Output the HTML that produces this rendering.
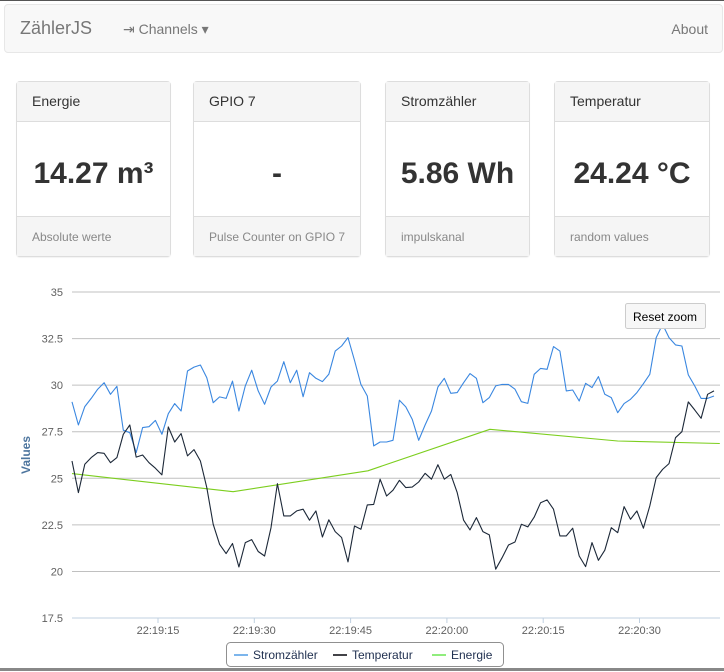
<!DOCTYPE html>
<html><head><meta charset="utf-8">
<style>
*{box-sizing:border-box}
body{margin:0;width:724px;height:671px;overflow:hidden;background:#fff;font-family:"Liberation Sans",Arial,sans-serif;color:#333;position:relative;border-top:1px solid #555}
.nav{position:absolute;left:4px;top:3px;width:719px;height:49px;background:#f8f8f8;border:1px solid #e7e7e7;border-radius:4px}
.brand{position:absolute;left:15px;top:13px;font-size:18px;color:#777}
.chan{position:absolute;left:118px;top:16px;font-size:14px;color:#777}
.about{position:absolute;right:14px;top:16px;font-size:14px;color:#777}
.card{position:absolute;top:80px;height:176px;border:1px solid #ddd;border-radius:4px;background:#fff;box-shadow:0 1px 1px rgba(0,0,0,.05)}
.card .hd{height:40px;background:#f5f5f5;border-bottom:1px solid #ddd;padding:11px 15px;font-size:14px;color:#333}
.card .bd{height:94px;text-align:center;font-size:30px;font-weight:bold;line-height:104px;color:#333;white-space:nowrap}
.card .ft{height:40px;background:#f5f5f5;border-top:1px solid #ddd;padding:13px 15px;font-size:12px;color:#888;white-space:nowrap}
svg text{font-family:"Liberation Sans",Arial,sans-serif}
</style></head><body>
<div class="nav">
 <span class="brand">ZählerJS</span>
 <span class="chan">⇥ Channels ▾</span>
 <span class="about">About</span>
</div>
<div class="card" style="left:16px;width:155px"><div class="hd">Energie</div><div class="bd">14.27 m³</div><div class="ft">Absolute werte</div></div>
<div class="card" style="left:193px;width:168px"><div class="hd">GPIO 7</div><div class="bd">-</div><div class="ft">Pulse Counter on GPIO 7</div></div>
<div class="card" style="left:385px;width:145px"><div class="hd">Stromzähler</div><div class="bd">5.86 Wh</div><div class="ft">impulskanal</div></div>
<div class="card" style="left:554px;width:156px"><div class="hd">Temperatur</div><div class="bd">24.24 °C</div><div class="ft">random values</div></div>

<svg id="chart" width="724" height="400" style="position:absolute;left:0;top:271px"></svg>
<div style="position:absolute;left:0;bottom:0;width:724px;height:3px;background:#888"></div>

<script>
const yTicks=[17.5,20,22.5,25,27.5,30,32.5,35];
const xTickSecs=[15,30,45,60,75,90];
const xTickLabels=["22:19:15","22:19:30","22:19:45","22:20:00","22:20:15","22:20:30"];
const startSec=1.6;
const stepSec=1;
const stromValues=[29.10,27.86,28.85,29.29,29.78,30.13,29.51,29.94,27.58,27.45,26.38,27.72,27.77,28.11,27.36,28.47,29.01,28.61,30.76,30.97,31.08,30.40,29.06,29.37,29.29,30.22,28.61,29.96,30.80,29.69,28.97,29.90,30.22,31.26,30.13,30.80,29.38,30.67,30.37,30.19,30.58,31.83,32.10,32.55,31.33,30.04,29.42,
26.74,26.95,26.95,27.04,29.19,28.83,28.17,27.04,27.86,28.61,29.90,30.37,29.56,29.60,30.13,30.62,30.37,29.06,29.33,29.96,30.04,30.04,29.78,29.11,29.02,30.58,30.90,30.85,32.07,31.83,29.69,29.74,29.15,30.10,29.87,30.46,29.51,29.33,28.52,29.01,29.24,29.60,30.08,30.58,32.55,33.26,32.55,32.16,32.10,30.55,29.96,29.29,29.29,29.42];
const tempValues=[25.93,24.23,25.75,26.11,26.38,26.34,25.84,26.11,27.36,27.86,26.14,26.25,25.84,25.54,25.18,27.76,26.95,27.40,26.20,26.54,25.93,24.50,22.53,21.46,20.96,21.50,20.24,21.55,21.71,21.07,20.83,22.35,24.71,22.98,22.98,23.25,23.34,22.75,23.25,21.85,22.77,22.14,21.82,20.51,22.44,22.26,23.57,
23.60,24.95,24.05,24.36,24.89,24.50,24.53,24.80,25.27,24.95,25.73,24.95,25.21,24.23,22.75,22.23,22.89,22.14,21.96,20.12,20.74,21.42,21.58,22.53,22.39,22.92,23.69,23.84,23.34,21.91,21.91,22.32,20.83,20.26,21.55,20.60,21.14,22.35,22.08,23.48,22.80,23.25,22.32,23.52,25.04,25.48,25.79,27.18,27.50,29.10,28.67,28.22,29.51,29.69];
const energieTimes=[1.6,26.7,47.7,66.7,86.6,102.5];
const energieValues=[25.25,24.28,25.40,27.63,27.00,26.87];

const OY=271;
function xPos(s){return 158+(s-15)*6.42;}
function yPos(v){return 291-OY+(35-v)*18.63;}
const NS="http://www.w3.org/2000/svg";
const svg=document.getElementById('chart');
function mk(tag,attrs){const e=document.createElementNS(NS,tag);for(const k in attrs)e.setAttribute(k,attrs[k]);svg.appendChild(e);return e;}
const L=72,R=720;
yTicks.forEach(v=>{
  const g=mk('line',{x1:L,x2:R,y1:yPos(v),y2:yPos(v),stroke:v===17.5?'#c0d0e0':'#c0c0c0','stroke-width':1});
  
  
  const t=mk('text',{x:63,y:yPos(v)+4,'text-anchor':'end','font-size':11,fill:'#606060'});
  t.textContent=v;
  
  
});
xTickSecs.forEach((s,i)=>{
  const tk=mk('line',{x1:xPos(s),x2:xPos(s),y1:yPos(17.5),y2:yPos(17.5)+5,stroke:'#c0d0e0'});
  
  
  const t=mk('text',{x:xPos(s),y:yPos(17.5)+16,'text-anchor':'middle','font-size':11,fill:'#606060'});
  t.textContent=xTickLabels[i];
  
  
});
const yt=mk('text',{x:0,y:0,transform:`translate(30,${yPos(26.25)}) rotate(-90)`,'text-anchor':'middle','font-size':12,'font-weight':'bold',fill:'#4d759e'});
yt.textContent='Values';



function series(times,vals,color,name){
  const d=vals.map((v,i)=>(i?'L':'M')+xPos(times(i)).toFixed(1)+' '+yPos(v).toFixed(1)).join(' ');
  const p=mk('path',{d:d,fill:'none',stroke:color,'stroke-width':1.1,'stroke-linejoin':'round'});
  
  
}
series(i=>energieTimes[i],energieValues,'#7cce1e','energie-line');
series(i=>startSec+i*stepSec,stromValues,'#3a87e0','stromzaehler-line');
series(i=>startSec+i*stepSec,tempValues,'#1c2838','temperatur-line');

const rb=mk('rect',{x:625.5,y:302.5-OY,width:80,height:25,rx:2,fill:'#f7f7f7',stroke:'#cccccc'});


const rt=mk('text',{x:665,y:320-OY,'text-anchor':'middle','font-size':12,fill:'#000'});
rt.textContent='Reset zoom';



const lb=mk('rect',{x:226.5,y:641.5-OY,width:277,height:24,rx:4,fill:'#fff',stroke:'#909090'});


const leg=[["Stromzähler",'#7cb5ec',234],["Temperatur",'#434348',333],["Energie",'#90ed7d',432]];
leg.forEach(([n,c,x])=>{
  const l=mk('line',{x1:x,x2:x+14,y1:654-OY,y2:654-OY,stroke:c,'stroke-width':2});
  
  
  const t=mk('text',{x:x+19,y:658-OY,'font-size':12,fill:'#1f2f4f'});
  t.textContent=n;
  
  
});
</script>
</body></html>
